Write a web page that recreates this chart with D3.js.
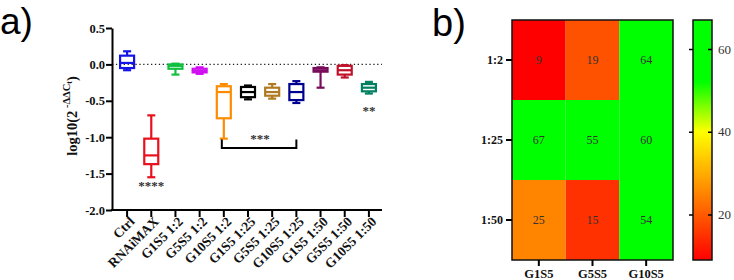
<!DOCTYPE html>
<html>
<head>
<meta charset="utf-8">
<script src="https://cdn.jsdelivr.net/npm/d3@7"></script>
<style>
  body { margin: 0; background: #fff; }
  svg { display: block; }
</style>
</head>
<body>
<script>
// Panel a) box plot data
const groups = ["Ctrl", "RNAiMAX", "G1S5 1:2", "G5S5 1:2", "G10S5 1:2", "G1S5 1:25", "G5S5 1:25", "G10S5 1:25", "G1S5 1:50", "G5S5 1:50", "G10S5 1:50"];
const mins   = [-0.08, -1.55, -0.14, -0.13, -1.02, -0.48, -0.47, -0.53, -0.32, -0.18, -0.40];
const q1s    = [-0.05, -1.37, -0.06, -0.11, -0.74, -0.45, -0.43, -0.49, -0.10, -0.14, -0.37];
const medians = [0.02, -1.25, -0.02, -0.09, -0.38, -0.38, -0.38, -0.38, -0.08, -0.08, -0.32];
const q3s    = [0.12, -1.02, 0.00, -0.06, -0.30, -0.31, -0.32, -0.27, -0.05, -0.02, -0.27];
const maxs   = [0.18, -0.70, 0.01, -0.04, -0.27, -0.29, -0.27, -0.23, -0.04, -0.01, -0.24];
const boxColors = ["#1414e6", "#e8101a", "#10c040", "#d010f0", "#ff8c00", "#000000", "#b07a20", "#000090", "#7a0c5c", "#c0102a", "#008060"];
const yTicks = [0.5, 0, -0.5, -1, -1.5, -2];

// Panel b) heatmap data
const hmCols = ["G1S5", "G5S5", "G10S5"];
const hmRows = ["1:2", "1:25", "1:50"];
const hmValues = [
  [9, 19, 64],
  [67, 55, 60],
  [25, 15, 54]
];
const cbTicks = [20, 40, 60];

const width = 734, height = 280;
const svg = d3.select("body").append("svg")
  .attr("width", width)
  .attr("height", height)
  .attr("viewBox", [0, 0, width, height]);

const serif = "'Liberation Serif', 'DejaVu Serif', serif";

// ---------- panel a ----------
const axisX = 112;
const x = d3.scaleBand().domain(groups).range([115, 381]);
const y = d3.scaleLinear().domain([-2, 0.5]).range([210, 28]);

svg.append("text")
  .attr("x", 0).attr("y", 34)
  .attr("font-family", "'Liberation Sans', Arial, sans-serif")
  .attr("font-size", 37)
  .text("a)");

// dotted zero line
svg.append("line")
  .attr("x1", axisX).attr("x2", 382)
  .attr("y1", y(0)).attr("y2", y(0))
  .attr("stroke", "#222").attr("stroke-width", 1.3)
  .attr("stroke-dasharray", "1.3,2.6");

// y axis
svg.append("g")
  .attr("transform", `translate(${axisX},0)`)
  .call(d3.axisLeft(y).tickValues(yTicks).tickFormat(d3.format(".1f")).tickSize(6).tickSizeOuter(0))
  .call(g => g.select(".domain").attr("stroke-width", 2))
  .call(g => g.selectAll(".tick line").attr("stroke-width", 2))
  .call(g => g.selectAll("text")
    .attr("font-family", serif).attr("font-weight", "bold")
    .attr("font-size", 12.5).attr("fill", "#111").attr("x", -7)
    .text(d => d3.format(".1f")(d).replace("−", "-")));

// y axis title
const yTitle = svg.append("text")
  .attr("transform", "translate(77,116) rotate(-90)")
  .attr("text-anchor", "middle")
  .attr("font-family", serif)
  .attr("font-weight", "bold")
  .attr("font-size", 14.5)
  .attr("fill", "#111");
yTitle.append("tspan").text("log10(2");
yTitle.append("tspan").attr("dy", -7).attr("font-size", 10.5).text(" -\u0394\u0394C");
yTitle.append("tspan").attr("dy", 2).attr("font-size", 8).text("t");
yTitle.append("tspan").attr("dy", 5).text(")");

// x axis
svg.append("g")
  .attr("transform", `translate(0,${y(-2)})`)
  .call(d3.axisBottom(x).tickSize(7).tickSizeOuter(0))
  .call(g => g.select(".domain").attr("d", `M${axisX - 1},0H382`).attr("stroke-width", 2))
  .call(g => g.selectAll(".tick line").attr("stroke-width", 2))
  .call(g => g.selectAll("text")
    .attr("font-family", serif).attr("font-size", 13.5).attr("font-weight", "600").attr("fill", "#111")
    .attr("text-anchor", "end")
    .attr("transform", "translate(5,9) rotate(-45)")
    .attr("dy", "0.35em").attr("y", 0).attr("x", 0));

// boxes
const boxData = groups.map((g, i) => ({
  g, min: mins[i], q1: q1s[i], med: medians[i], q3: q3s[i], max: maxs[i], c: boxColors[i]
}));
const boxW = 14, capW = 8;
const bx = svg.append("g").attr("fill", "none").attr("stroke-width", 2.2);
const bg = bx.selectAll("g").data(boxData).join("g")
  .attr("transform", d => `translate(${x(d.g) + x.bandwidth() / 2},0)`)
  .attr("stroke", d => d.c);
bg.append("line").attr("y1", d => y(d.max)).attr("y2", d => y(d.q3));
bg.append("line").attr("y1", d => y(d.q1)).attr("y2", d => y(d.min));
bg.append("line").attr("x1", -capW / 2).attr("x2", capW / 2).attr("y1", d => y(d.max)).attr("y2", d => y(d.max));
bg.append("line").attr("x1", -capW / 2).attr("x2", capW / 2).attr("y1", d => y(d.min)).attr("y2", d => y(d.min));
bg.append("rect")
  .attr("x", -boxW / 2).attr("width", boxW)
  .attr("y", d => y(d.q3)).attr("height", d => Math.max(1, y(d.q1) - y(d.q3)));
bg.append("line").attr("x1", -boxW / 2).attr("x2", boxW / 2).attr("y1", d => y(d.med)).attr("y2", d => y(d.med));

// significance marks
const star = (label, gx, yy) => svg.append("text")
  .attr("x", gx).attr("y", yy)
  .attr("text-anchor", "middle")
  .attr("font-family", serif).attr("font-size", 13).attr("font-weight", "bold").attr("fill", "#333")
  .text(label);
const cx = g => x(g) + x.bandwidth() / 2;
star("****", cx("RNAiMAX"), y(-1.63) + 7);
star("**", cx("G10S5 1:50"), y(-0.6) + 7);
star("***", (cx("G10S5 1:2") + cx("G10S5 1:25")) / 2, y(-0.98) + 7);
svg.append("path")
  .attr("d", `M${cx("G10S5 1:2") - 2},${y(-1.03)}V${y(-1.15)}H${cx("G10S5 1:25")}V${y(-1.03)}`)
  .attr("fill", "none").attr("stroke", "#000").attr("stroke-width", 2);

// ---------- panel b ----------
svg.append("text")
  .attr("x", 432).attr("y", 36)
  .attr("font-family", "'Liberation Sans', Arial, sans-serif")
  .attr("font-size", 38)
  .text("b)");

const hx = d3.scaleBand().domain(hmCols).range([512, 673]);
const hy = d3.scaleBand().domain(hmRows).range([20, 260]);

const color = v => {
  if (v <= 40) return d3.interpolateRgb("#ff0000", "#ffff00")(Math.max(0, (v - 9) / 31));
  if (v <= 52) return d3.interpolateRgb("#ffff00", "#00ff00")((v - 40) / 12);
  return "#00ff00";
};

const cells = [];
hmRows.forEach((r, i) => hmCols.forEach((c, j) => cells.push({ r, c, v: hmValues[i][j] })));

svg.append("g").selectAll("rect").data(cells).join("rect")
  .attr("x", d => hx(d.c)).attr("y", d => hy(d.r))
  .attr("width", hx.bandwidth()).attr("height", hy.bandwidth())
  .attr("fill", d => color(d.v));

svg.append("g").selectAll("text").data(cells).join("text")
  .attr("x", d => hx(d.c) + hx.bandwidth() / 2)
  .attr("y", d => hy(d.r) + hy.bandwidth() / 2)
  .attr("dy", "0.35em")
  .attr("text-anchor", "middle")
  .attr("font-family", serif).attr("font-size", 12).attr("fill", "#333")
  .text(d => d.v);

svg.append("rect")
  .attr("x", 512).attr("y", 20).attr("width", 161).attr("height", 240)
  .attr("fill", "none").attr("stroke", "#111").attr("stroke-width", 1.5);

svg.append("g")
  .attr("transform", "translate(512,0)")
  .call(d3.axisLeft(hy).tickSize(6))
  .call(g => g.select(".domain").remove())
  .call(g => g.selectAll(".tick line").attr("stroke-width", 2))
  .call(g => g.selectAll("text").attr("font-family", serif).attr("font-weight", "bold").attr("font-size", 12).attr("fill", "#111"));

svg.append("g")
  .attr("transform", "translate(0,260)")
  .call(d3.axisBottom(hx).tickSize(6))
  .call(g => g.select(".domain").remove())
  .call(g => g.selectAll(".tick line").attr("stroke-width", 2))
  .call(g => g.selectAll("text").attr("font-family", serif).attr("font-weight", "bold").attr("font-size", 12.5).attr("fill", "#111"));

// colour bar
const cb = d3.scaleLinear().domain([9, 67]).range([260, 20]);
const defs = svg.append("defs");
const grad = defs.append("linearGradient").attr("id", "cbgrad")
  .attr("x1", 0).attr("x2", 0).attr("y1", 1).attr("y2", 0);
d3.range(9, 67.01, 1).forEach(v => {
  grad.append("stop").attr("offset", (v - 9) / 58).attr("stop-color", color(v));
});
svg.append("rect")
  .attr("x", 693).attr("y", 20).attr("width", 19).attr("height", 240)
  .attr("fill", "url(#cbgrad)").attr("stroke", "#111").attr("stroke-width", 1.5);

svg.append("g").attr("transform", "translate(712,0)")
  .call(d3.axisRight(cb).tickValues(cbTicks).tickSize(4))
  .call(g => g.select(".domain").remove())
  .call(g => g.selectAll(".tick line").attr("x1", -23).attr("x2", 4).attr("stroke-width", 1.5).attr("stroke-dasharray", "4,15"))
  .call(g => g.selectAll("text").attr("x", 6).attr("font-family", serif).attr("font-size", 13).attr("fill", "#333"));
</script>
</body>
</html>
